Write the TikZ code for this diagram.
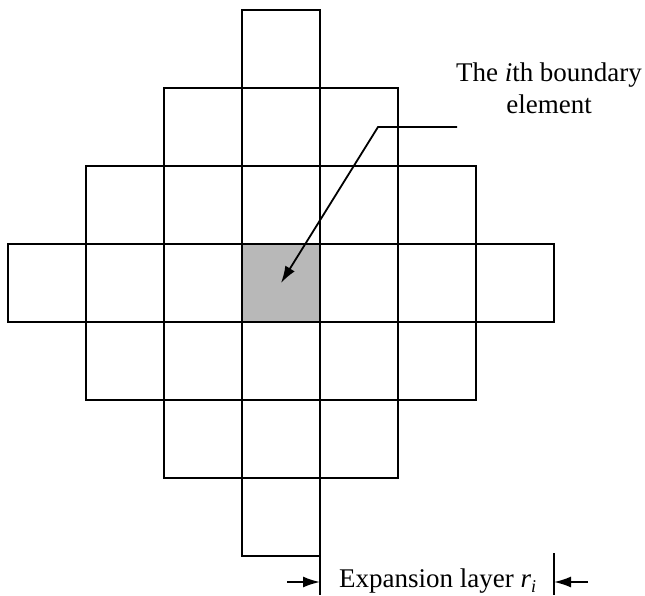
\documentclass[tikz,border=0pt]{standalone}
\usepackage{fontspec}
\setmainfont{Liberation Serif}
\usetikzlibrary{arrows.meta}
\definecolor{shade}{RGB}{184,184,184}
\begin{document}
\begin{tikzpicture}[x=1pt,y=-1pt,
  cell/.style={draw=black,line width=1.8pt,minimum size=78pt,inner sep=0pt,outer sep=0pt},
  lbl/.style={font=\fontsize{27}{32}\selectfont,inner sep=0pt},
  wire/.style={line width=1.8pt},
  tip/.style={-{Latex[length=17pt,width=11pt]}}]
\useasboundingbox (0,0) rectangle (645,595);
% rows: row index r, first col a, last col b
\foreach \r/\a/\b in {0/3/3,1/2/4,2/1/5,3/0/6,4/1/5,5/2/4,6/3/3}{
  \foreach \c in {\a,...,\b}{
    \node[cell] (c\c-\r) at ({47+78*\c},{49+78*\r}) {};
  }
}
\node[cell,fill=shade] (c3-3) at ({47+78*3},{49+78*3}) {};
% label of boundary element
\node[lbl,align=center,anchor=base] (el) at (549,113) {The \textit{i}th boundary\\element};
\coordinate (lstart) at (457,127);
\coordinate (bend) at (378,127);
\draw[wire,tip] (lstart) -- (bend) -- (c3-3.center);
% expansion layer
\coordinate (lbot) at (320,595);
\coordinate (rtop) at (554,553);
\coordinate (rbot) at (554,595);
\draw[wire] (c3-6.south east) -- (lbot);
\draw[wire] (rtop) -- (rbot);
\coordinate (la) at (287,582);
\coordinate (lb) at (320,582);
\coordinate (ra) at (588,582);
\coordinate (rb) at (554,582);
\draw[wire,tip] (la) -- (lb);
\draw[wire,tip] (ra) -- (rb);
\node[lbl,anchor=base west] (exp) at (339,587) {Expansion layer \textit{r}{\fontsize{18}{18}\selectfont\raisebox{-5pt}{\textit{i}}}};
\end{tikzpicture}
\end{document}
